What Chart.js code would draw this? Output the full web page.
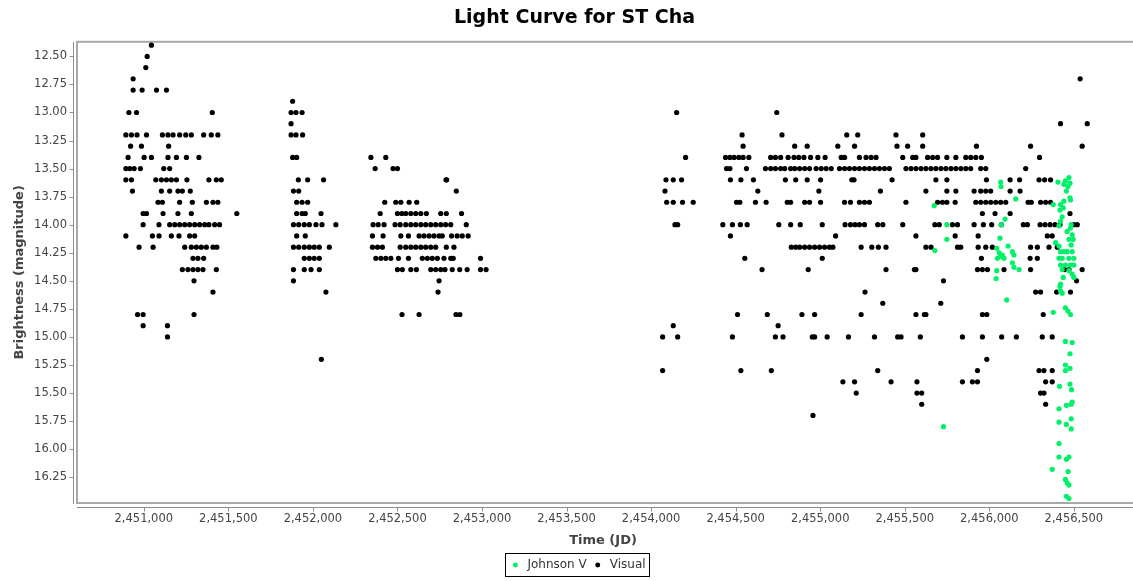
<!DOCTYPE html>
<html>
<head>
<meta charset="utf-8">
<title>Light Curve for ST Cha</title>
<script src="https://cdn.jsdelivr.net/npm/chart.js@4.4.1/dist/chart.umd.min.js"></script>
<style>
  html, body { margin: 0; padding: 0; background: #fff; }
</style>
</head>
<body>
<canvas id="lightCurve" width="1133" height="581"></canvas>
<script>
// Visual estimates, grouped by season: [magnitude, [JD, JD, ...]]
const visualSeason1 = [
  [12.4, [2451045]],
  [12.5, [2451020]],
  [12.6, [2451012]],
  [12.7, [2450937]],
  [12.8, [2450937, 2450990, 2451075, 2451134]],
  [13.0, [2450912, 2450957, 2451405]],
  [13.2, [2450894, 2450927, 2450960, 2451016, 2451110, 2451143, 2451173, 2451212, 2451248, 2451281, 2451354, 2451399, 2451438]],
  [13.3, [2450922, 2450986, 2451147]],
  [13.4, [2450907, 2451002, 2451045, 2451143, 2451193, 2451252, 2451326]],
  [13.5, [2450894, 2450917, 2450943, 2450980, 2451118, 2451153]],
  [13.6, [2450894, 2450927, 2451071, 2451104, 2451134, 2451163, 2451193, 2451255, 2451385, 2451429, 2451458]],
  [13.7, [2450933, 2451104, 2451153, 2451202, 2451228, 2451275]],
  [13.8, [2451084, 2451110, 2451212, 2451287, 2451370, 2451409, 2451438]],
  [13.9, [2450996, 2451016, 2451114, 2451202, 2451281, 2451550]],
  [14.0, [2450996, 2451090, 2451153, 2451183, 2451212, 2451242, 2451271, 2451301, 2451330, 2451360, 2451385, 2451419, 2451448]],
  [14.1, [2450894, 2451051, 2451090, 2451163, 2451208, 2451271, 2451301]],
  [14.2, [2450972, 2451055, 2451242, 2451281, 2451311, 2451340, 2451370, 2451409, 2451432]],
  [14.3, [2451291, 2451320, 2451354]],
  [14.4, [2451228, 2451261, 2451291, 2451320, 2451350, 2451429]],
  [14.5, [2451297]],
  [14.6, [2451409]],
  [14.8, [2450963, 2450996, 2451297]],
  [14.9, [2450996, 2451140]],
  [15.0, [2451140]]
];

const visualSeason2 = [
  [12.9, [2451880]],
  [13.0, [2451871, 2451900, 2451936]],
  [13.1, [2451871]],
  [13.2, [2451871, 2451900, 2451939]],
  [13.4, [2451880, 2451904, 2452343, 2452431]],
  [13.5, [2452368, 2452474, 2452500]],
  [13.6, [2451914, 2451969, 2452063, 2452787, 2452791]],
  [13.7, [2451885, 2451916, 2452848]],
  [13.8, [2451904, 2451936, 2451969, 2452425, 2452490, 2452520, 2452569, 2452614]],
  [13.9, [2451904, 2451936, 2451955, 2452048, 2452398, 2452500, 2452526, 2452549, 2452579, 2452608, 2452638, 2452671, 2452756, 2452789, 2452879]],
  [14.0, [2451885, 2451916, 2451949, 2451979, 2452018, 2452054, 2452136, 2452356, 2452386, 2452421, 2452486, 2452516, 2452549, 2452579, 2452608, 2452638, 2452667, 2452697, 2452726, 2452756, 2452785, 2452815, 2452907]],
  [14.1, [2451904, 2451955, 2452352, 2452415, 2452520, 2452565, 2452628, 2452657, 2452687, 2452716, 2452746, 2452765, 2452820, 2452853, 2452883, 2452918]],
  [14.2, [2451885, 2451916, 2451949, 2451979, 2452008, 2452038, 2452097, 2452352, 2452382, 2452411, 2452516, 2452549, 2452579, 2452608, 2452638, 2452667, 2452697, 2452726, 2452789, 2452834]],
  [14.3, [2451949, 2451979, 2452008, 2452038, 2452372, 2452402, 2452431, 2452461, 2452506, 2452565, 2452647, 2452677, 2452706, 2452736, 2452775, 2452815, 2452830, 2452991]],
  [14.4, [2451885, 2451949, 2451989, 2452038, 2452500, 2452529, 2452579, 2452612, 2452697, 2452726, 2452756, 2452781, 2452824, 2452868, 2452912, 2452991, 2453024]],
  [14.5, [2451885, 2452746]],
  [14.6, [2452077, 2452740]],
  [14.8, [2452527, 2452628, 2452846, 2452869]],
  [15.2, [2452050]]
];

const visualSeason3 = [
  [13.0, [2454151]],
  [13.4, [2454204]],
  [13.6, [2454088, 2454131, 2454180]],
  [13.7, [2454082]],
  [13.8, [2454092, 2454131, 2454186, 2454249]],
  [14.0, [2454141, 2454157]],
  [14.9, [2454131]],
  [15.0, [2454068, 2454157]],
  [15.3, [2454068]]
];

const visualSeason4 = [
  [12.7, [2456537]],
  [13.0, [2454743]],
  [13.1, [2456421, 2456579]],
  [13.2, [2454538, 2454774, 2455157, 2455222, 2455448, 2455606]],
  [13.3, [2454544, 2454849, 2454923, 2455104, 2455203, 2455454, 2455517, 2455606, 2455924, 2456244, 2456549]],
  [13.4, [2454440, 2454466, 2454491, 2454519, 2454544, 2454578, 2454707, 2454735, 2454766, 2454810, 2454845, 2454873, 2454904, 2454943, 2454986, 2455029, 2455124, 2455144, 2455232, 2455271, 2455301, 2455330, 2455488, 2455547, 2455566, 2455635, 2455665, 2455694, 2455749, 2455802, 2455861, 2455890, 2455920, 2455953, 2456297]],
  [13.5, [2454446, 2454466, 2454564, 2454676, 2454707, 2454735, 2454766, 2454790, 2454825, 2454849, 2454878, 2454908, 2454937, 2454976, 2455006, 2455035, 2455065, 2455114, 2455144, 2455173, 2455203, 2455232, 2455262, 2455291, 2455321, 2455350, 2455380, 2455409, 2455507, 2455537, 2455566, 2455596, 2455625, 2455655, 2455684, 2455714, 2455743, 2455773, 2455802, 2455832, 2455861, 2455890, 2455949, 2455979, 2456215]],
  [13.6, [2454469, 2454531, 2454605, 2454794, 2454855, 2454923, 2455002, 2455187, 2455200, 2455425, 2455684, 2455749, 2455983, 2456123, 2456179, 2456294, 2456327, 2456362]],
  [13.7, [2454631, 2454992, 2455356, 2455625, 2455749, 2455802, 2455910, 2455949, 2455979, 2456008, 2456123, 2456182]],
  [13.8, [2454505, 2454525, 2454617, 2454680, 2454805, 2454825, 2454908, 2454937, 2455002, 2455144, 2455179, 2455232, 2455262, 2455291, 2455507, 2455694, 2455723, 2455749, 2455798, 2455920, 2455949, 2455979, 2456008, 2456038, 2456067, 2456097, 2456229, 2456248, 2456303, 2456333, 2456362]],
  [13.9, [2455959, 2456034, 2456123, 2456477]],
  [14.0, [2454424, 2454481, 2454528, 2454568, 2454755, 2454825, 2454882, 2455012, 2455147, 2455179, 2455206, 2455232, 2455262, 2455340, 2455370, 2455488, 2455678, 2455704, 2455782, 2455812, 2455910, 2455965, 2456014, 2456071, 2456201, 2456225, 2456300, 2456329, 2456359, 2456388, 2456418, 2456500, 2456520]],
  [14.1, [2454469, 2455091, 2455566, 2455798, 2455934, 2456343, 2456372]],
  [14.2, [2454829, 2454855, 2454878, 2454908, 2454937, 2454967, 2454996, 2455026, 2455055, 2455075, 2455242, 2455305, 2455344, 2455389, 2455625, 2455655, 2455812, 2455831, 2455934, 2455979, 2456018, 2456244, 2456284, 2456353, 2456402]],
  [14.3, [2454554, 2455012, 2455953, 2456241, 2456284]],
  [14.4, [2454656, 2454929, 2455389, 2455557, 2455566, 2455930, 2455959, 2455989, 2456087, 2456244, 2456445, 2456471, 2456549]],
  [14.5, [2455729, 2456516]],
  [14.6, [2455265, 2456274, 2456303, 2456398, 2456480]],
  [14.7, [2455370, 2455713]],
  [14.8, [2454511, 2454687, 2454892, 2454967, 2455242, 2455566, 2455616, 2455625, 2455959, 2455985, 2456319]],
  [14.9, [2454751]],
  [15.0, [2454481, 2454735, 2454780, 2454953, 2454967, 2455041, 2455167, 2455321, 2455458, 2455478, 2455592, 2455841, 2455959, 2456073, 2456160, 2456313, 2456372]],
  [15.2, [2455985]],
  [15.3, [2454531, 2454711, 2455340, 2455930, 2456294, 2456323, 2456372]],
  [15.4, [2455134, 2455203, 2455419, 2455572, 2455841, 2455900, 2455930, 2456333, 2456372]],
  [15.5, [2455213, 2455572, 2455600, 2456303, 2456323]],
  [15.6, [2455600, 2456333]],
  [15.7, [2454957]]
];

// Johnson V photometry
const johnsonJD = [
  2455674, 2455678, 2455749, 2455749, 2455729,
  2456067, 2456069, 2456093, 2456071, 2456063, 2456044, 2456058, 2456067, 2456048, 2456077, 2456087,
  2456044, 2456040, 2456111, 2456136, 2456146, 2456136, 2456146, 2456176, 2456156, 2456103,
  2456471, 2456450, 2456477, 2456441, 2456465, 2456406, 2456456, 2456477, 2456378, 2456421,
  2456441, 2456418, 2456437, 2456431, 2456421, 2456412, 2456484, 2456480, 2456460, 2456490,
  2456471, 2456496, 2456484, 2456392, 2456412, 2456421, 2456441, 2456460, 2456490,
  2456412, 2456431, 2456471, 2456500, 2456421, 2456450, 2456480, 2456500, 2456431, 2456471,
  2456490, 2456421, 2456421, 2456480, 2456418, 2456500, 2456437,
  2456431, 2456378, 2456450, 2456465, 2456480, 2456450, 2456490, 2456477, 2456450, 2456477, 2456450,
  2456415, 2456477, 2456486, 2456490, 2456484, 2456456, 2456412, 2456412, 2456456, 2456484, 2456484,
  2456412, 2456412, 2456456, 2456471, 2456372, 2456466, 2456450, 2456460, 2456471, 2456456, 2456471
];
const johnsonMag = [
  13.83, 14.23, 14.00, 14.13, 15.80,
  13.62, 13.66, 13.95, 14.00, 14.12, 14.21, 14.25, 14.28, 14.30, 14.27, 14.30,
  14.41, 14.48, 14.19, 14.24, 14.27, 14.34, 14.38, 14.40, 13.77, 14.67,
  13.58, 13.61, 13.63, 13.64, 13.66, 13.62, 13.70, 13.76, 13.82, 13.82,
  13.79, 13.87, 13.85, 13.93, 13.97, 14.01, 14.00, 14.03, 14.06, 14.09,
  14.13, 14.13, 14.18, 14.16, 14.19, 14.24, 14.24, 14.24, 14.24,
  14.30, 14.30, 14.30, 14.30, 14.36, 14.36, 14.36, 14.36, 14.40, 14.41,
  14.44, 14.53, 14.59, 13.78, 14.55, 14.47, 14.47,
  14.61, 14.78, 14.74, 14.77, 14.80, 15.04, 15.05, 15.15, 15.25, 15.28, 15.30,
  15.44, 15.42, 15.47, 15.58, 15.60, 15.61, 15.64, 15.76, 15.78, 15.73, 15.82,
  15.95, 16.07, 16.09, 16.07, 16.18, 16.20, 16.27, 16.30, 16.32, 16.42, 16.44
];

const xTicks = [2451000, 2451500, 2452000, 2452500, 2453000, 2453500, 2454000, 2454500, 2455000, 2455500, 2456000, 2456500];
const yTicks = [12.5, 12.75, 13.0, 13.25, 13.5, 13.75, 14.0, 14.25, 14.5, 14.75, 15.0, 15.25, 15.5, 15.75, 16.0, 16.25];

function rowsToPoints(seasons) {
  var pts = [];
  seasons.forEach(function (rows) {
    rows.forEach(function (row) {
      row[1].forEach(function (jd) {
        pts.push({ x: jd, y: row[0] });
      });
    });
  });
  return pts;
}

var visualPoints = rowsToPoints([visualSeason1, visualSeason2, visualSeason3, visualSeason4]);
var johnsonPoints = johnsonJD.map(function (jd, i) {
  return { x: jd, y: johnsonMag[i] };
});

// plot outline, offset axis lines with tick marks, and legend frame
const frame = {
  id: 'frame',
  afterLayout(chart) {
    // title and legend sit a little right of the canvas centre in the original
    var t = chart.titleBlock, l = chart.legend;
    if (t) { t.left += 8; t.right += 8; }
    if (l) { l.left += 11; l.right += 11; }
  },
  beforeDatasetsDraw(chart) {
    var a = chart.chartArea, ctx = chart.ctx;
    var xs = chart.scales.x, ys = chart.scales.y;
    ctx.save();
    ctx.strokeStyle = '#a8a8a8';
    ctx.lineWidth = 2;
    ctx.strokeRect(a.left, a.top, chart.width + 10 - a.left, a.bottom - a.top);

    ctx.strokeStyle = '#8c8c8c';
    ctx.lineWidth = 1;
    ctx.beginPath();
    var axX = a.left - 3.5, axY = a.bottom + 4.5;
    ctx.moveTo(axX, a.top);
    ctx.lineTo(axX, a.bottom + 1);
    ctx.moveTo(a.left, axY);
    ctx.lineTo(chart.width, axY);
    xTicks.forEach(function (v) {
      var px = Math.round(xs.getPixelForValue(v)) + 0.5;
      ctx.moveTo(px, axY);
      ctx.lineTo(px, axY + 4);
    });
    yTicks.forEach(function (v) {
      var py = Math.round(ys.getPixelForValue(v)) + 0.5;
      ctx.moveTo(axX, py);
      ctx.lineTo(axX - 4, py);
    });
    ctx.stroke();
    ctx.restore();
  },
  afterDraw(chart) {
    var boxes = chart.legend.legendHitBoxes;
    if (!boxes || !boxes.length) return;
    var left = Math.min.apply(null, boxes.map(function (b) { return b.left; }));
    var right = Math.max.apply(null, boxes.map(function (b) { return b.left + b.width; }));
    var top = boxes[0].top, h = boxes[0].height;
    var ctx = chart.ctx;
    ctx.save();
    ctx.strokeStyle = '#000';
    ctx.lineWidth = 1;
    ctx.strokeRect(Math.round(left) - 3.5, Math.round(top) - 5.5, Math.round(right - left) + 8, Math.round(h) + 11);
    ctx.restore();
  }
};

Chart.defaults.font.family = "'DejaVu Sans', sans-serif";

new Chart(document.getElementById('lightCurve'), {
  type: 'scatter',
  data: {
    datasets: [{
      label: 'Johnson V',
      data: johnsonPoints,
      backgroundColor: '#00f06a',
      pointRadius: 2.6,
      pointBorderWidth: 0
    }, {
      label: 'Visual',
      data: visualPoints,
      backgroundColor: '#000000',
      pointRadius: 2.6,
      pointBorderWidth: 0
    }]
  },
  options: {
    responsive: false,
    animation: false,
    layout: { padding: { left: 0, right: 0, top: 0, bottom: 0 } },
    plugins: {
      title: {
        display: true,
        text: 'Light Curve for ST Cha',
        color: '#000',
        font: { size: 19, weight: 'bold' },
        padding: { top: 7, bottom: 12 }
      },
      legend: {
        position: 'bottom',
        labels: {
          usePointStyle: true,
          pointStyle: 'circle',
          boxWidth: 12,
          boxHeight: 3.5,
          padding: 5,
          color: '#333',
          font: { size: 12 }
        }
      },
      tooltip: { enabled: false }
    },
    scales: {
      x: {
        type: 'linear',
        position: 'bottom',
        min: 2450605,
        max: 2456826,
        grid: { display: false, drawTicks: false },
        border: { display: false },
        afterBuildTicks: function (s) { s.ticks = xTicks.map(function (v) { return { value: v }; }); },
        afterFit: function (s) { s.height = 51; },
        ticks: {
          padding: 9,
          color: '#444',
          maxRotation: 0,
          autoSkip: false,
          font: { size: 11.5 },
          callback: function (v) { return v.toLocaleString('en-US'); }
        },
        title: {
          display: true,
          text: 'Time (JD)',
          color: '#444',
          font: { size: 13, weight: 'bold' },
          padding: { top: 0, bottom: 6 }
        }
      },
      y: {
        reverse: true,
        min: 12.37,
        max: 16.48,
        grid: { display: false, drawTicks: false },
        border: { display: false },
        afterBuildTicks: function (s) { s.ticks = yTicks.map(function (v) { return { value: v }; }); },
        afterFit: function (s) { s.width = 77; },
        ticks: {
          padding: 10,
          color: '#444',
          autoSkip: false,
          font: { size: 11.5 },
          callback: function (v) { return v.toFixed(2); }
        },
        title: {
          display: true,
          text: 'Brightness (magnitude)',
          color: '#444',
          font: { size: 13, weight: 'bold' },
          padding: { top: 12, bottom: 0 }
        }
      }
    }
  },
  plugins: [frame]
});
</script>
</body>
</html>
